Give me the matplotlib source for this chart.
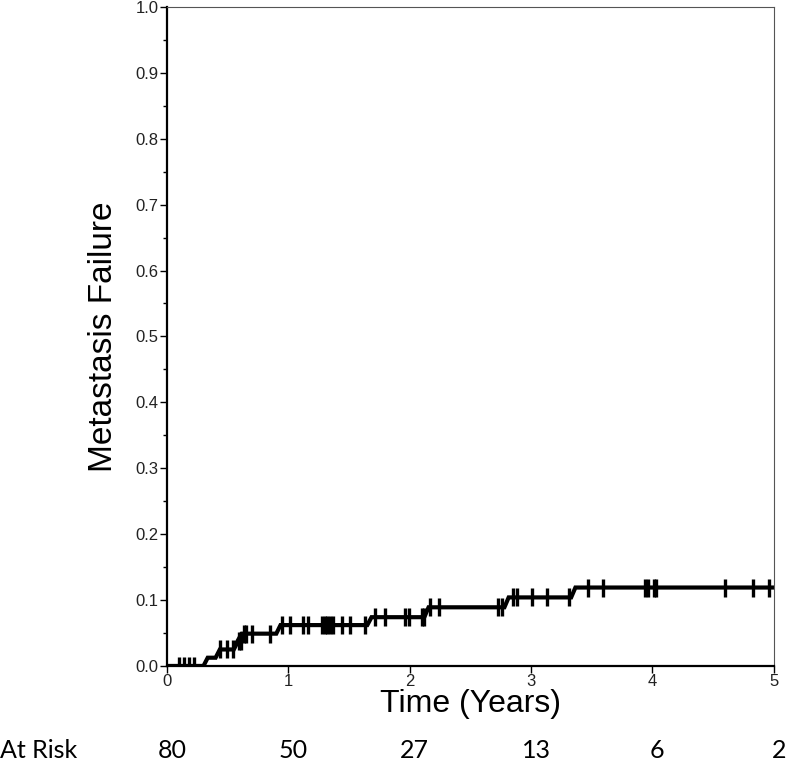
import matplotlib
matplotlib.use("Agg")
import matplotlib.pyplot as plt
from matplotlib.ticker import MultipleLocator, FormatStrFormatter

# cumulative incidence step curve (time in years, failure)
event_times = [0.0, 0.30, 0.40, 0.55, 0.58, 0.90, 1.65, 2.12, 2.78, 3.33, 5.0]
event_levels = [0.0, 0.0125, 0.025, 0.0375, 0.049, 0.062, 0.074, 0.089, 0.104, 0.119, 0.119]

# censored observations
censor_times = [0.10, 0.14, 0.18, 0.22,
                0.44, 0.49, 0.54,
                0.59, 0.61, 0.63, 0.65, 0.70, 0.85,
                0.95, 1.01, 1.12, 1.16, 1.28, 1.30, 1.32, 1.34, 1.37, 1.44, 1.51, 1.63,
                1.71, 1.80, 1.96, 1.99, 2.10, 2.12,
                2.17, 2.24, 2.73, 2.76,
                2.85, 2.88, 3.01, 3.13, 3.31,
                3.47, 3.59, 3.94, 3.96, 4.01, 4.03, 4.60, 4.83, 4.96]

risk_times = [0, 1, 2, 3, 4, 5]
at_risk = [80, 50, 27, 13, 6, 2]

RISE = 0.035  # jumps drawn slightly slanted like the original software


def level_at(t):
    lvl = 0.0
    for et, ev in zip(event_times, event_levels):
        if et + RISE <= t:
            lvl = ev
    return lvl


# build the path with slanted rises
xs, ys = [event_times[0]], [event_levels[0]]
for i in range(1, len(event_times)):
    if event_levels[i] != event_levels[i - 1]:
        xs += [event_times[i], event_times[i] + RISE]
        ys += [event_levels[i - 1], event_levels[i]]
    else:
        xs.append(event_times[i])
        ys.append(event_levels[i])

fig = plt.figure(figsize=(7.88, 7.69), dpi=100)
ax = fig.add_axes([0.212, 0.134, 0.770, 0.857])

ax.plot(xs, ys, color="black", lw=3, solid_joinstyle="miter")
ax.plot(censor_times, [level_at(t) for t in censor_times], ls="none",
        marker="|", ms=13, mew=2.4, color="black")

ax.set_xlim(0, 5)
ax.set_ylim(0, 1.0)
ax.xaxis.set_major_locator(MultipleLocator(1))
ax.yaxis.set_major_locator(MultipleLocator(0.1))
ax.yaxis.set_minor_locator(MultipleLocator(0.05))
ax.yaxis.set_major_formatter(FormatStrFormatter("%.1f"))

for lab in ax.get_xticklabels() + ax.get_yticklabels():
    lab.set_fontfamily("Liberation Sans")
    lab.set_fontsize(12)
    lab.set_color("#222222")

ax.tick_params(axis="both", which="major", length=5, width=1, direction="out", pad=1)
ax.tick_params(axis="y", which="minor", length=3, width=1)

for side in ["left", "bottom"]:
    ax.spines[side].set_linewidth(1.6)
    ax.spines[side].set_color("black")
for side in ["top", "right"]:
    ax.spines[side].set_linewidth(0.8)
    ax.spines[side].set_color("#555555")

ax.set_ylabel("Metastasis Failure", fontfamily="Liberation Sans", fontsize=24, labelpad=12)
ax.set_xlabel("Time (Years)", fontfamily="Liberation Sans", fontsize=23, labelpad=0)

# number at risk row
ax.text(-0.212 / 0.770 * 5, -0.128, "At Risk", transform=ax.get_xaxis_transform(),
        fontfamily="Lato", fontsize=18, ha="left", va="center", clip_on=False)
for t, n in zip(risk_times, at_risk):
    ax.text(t + 0.04, -0.128, str(n), transform=ax.get_xaxis_transform(),
            fontfamily="Lato", fontsize=18, ha="center", va="center", clip_on=False)

fig.savefig("out.png", dpi=100)
